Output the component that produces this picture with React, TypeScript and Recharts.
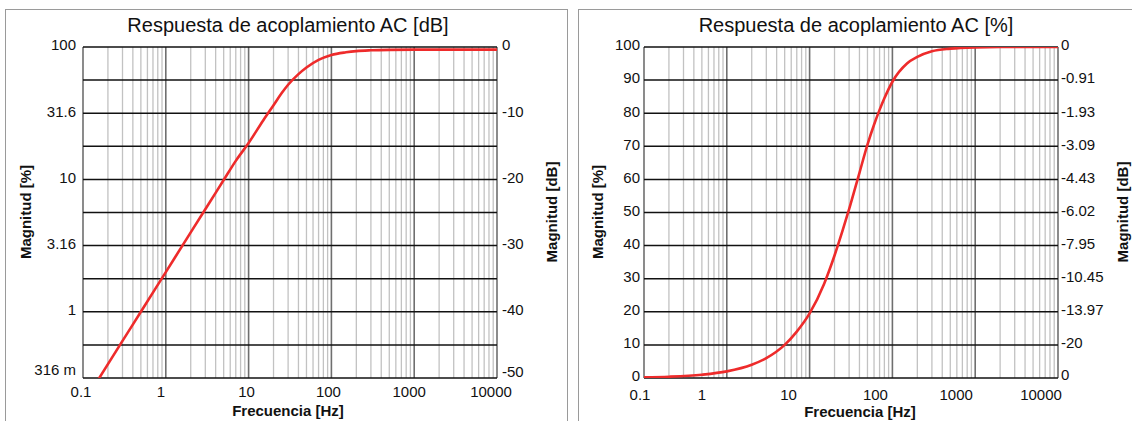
import React from "react";
import { Line, LineChart, ReferenceLine, XAxis, YAxis } from "recharts";

// x axis (shared by both panels)
const freqTicks = [0.1, 1, 10, 100, 1000, 10000];
const freqTickLabels = ["0.1", "1", "10", "100", "1000", "10000"];
const decadeLines = [0.1, 1, 10, 100, 1000, 10000];
const decadeStarts = [0.1, 1, 10, 100, 1000];
const minorSteps = [2, 3, 4, 5, 6, 7, 8, 9];

// left panel: response in dB
const dbTicks = [-50, -40, -30, -20, -10, 0];
const dbPctLabels = ["316 m", "1", "3.16", "10", "31.6", "100"];
const dbLabels = ["-50", "-40", "-30", "-20", "-10", "0"];
const dbGrid = [-50, -45, -40, -35, -30, -25, -20, -15, -10, -5, 0];
const dbFreq = [0.15, 0.3, 0.5, 1, 2, 3, 5, 7, 10, 15, 20, 25, 30, 40, 50, 70, 100, 150, 200, 300, 500, 1000, 10000];
const dbValues = [-50.4, -44.4, -40, -34, -28, -24.5, -20.1, -17.2, -14.5, -11.1, -8.8, -7.0, -5.7, -4.1, -3.1, -1.95, -1.2, -0.8, -0.62, -0.5, -0.43, -0.4, -0.4];

// right panel: response in %
const pctTicks = [0, 10, 20, 30, 40, 50, 60, 70, 80, 90, 100];
const pctDbLabels = ["0", "-20", "-13.97", "-10.45", "-7.95", "-6.02", "-4.43", "-3.09", "-1.93", "-0.91", "0"];
const pctFreq = [0.1, 0.2, 0.5, 1, 2, 3, 5, 7, 10, 15, 20, 25, 30, 40, 50, 60, 70, 80, 100, 150, 200, 300, 500, 1000, 2000, 10000];
const pctValues = [0.2, 0.4, 1.0, 2.0, 4.0, 6.0, 10, 14, 19.5, 28.5, 37, 44.5, 51, 62, 70.5, 76.5, 81, 84.5, 89.5, 95, 97, 98.7, 99.5, 99.9, 100, 100];

const minorLines = decadeStarts.flatMap((d) => minorSteps.map((m) => d * m));

const dbData = dbFreq.map((f, i) => ({ f, v: dbValues[i] }));
const pctData = pctFreq.map((f, i) => ({ f, v: pctValues[i] }));

const FONT = "Arial, 'Liberation Sans', Helvetica, sans-serif";
const RED = "#ee2b2b";

const makeFreqTick = (shifts: number[], down: number) => (props: any) => {
  const { x, y, payload } = props;
  const i = freqTicks.indexOf(payload.value);
  return (
    <text x={x + (shifts[i] ?? 0)} y={y + down} dy="0.71em" textAnchor="middle" fontSize={15} fontFamily={FONT} fill="#111">
      {freqTickLabels[i]}
    </text>
  );
};

const makeValueTick = (ticks: number[], labels: string[], anchor: "start" | "end", bottomLift: number) => (props: any) => {
  const { x, y, payload } = props;
  const i = ticks.indexOf(payload.value);
  const lift = i === 0 ? bottomLift : 2;
  return (
    <text x={x} y={y - lift} dy="0.355em" textAnchor={anchor} fontSize={15} fontFamily={FONT} fill="#111">
      {labels[i]}
    </text>
  );
};

interface PanelProps {
  data: { f: number; v: number }[];
  domain: [number, number];
  ticks: number[];
  hLines: number[];
  leftLabels: string[];
  rightLabels: string[];
  tickShifts: number[];
  tickDown: number;
  margin: { top: number; right: number; bottom: number; left: number };
  leftGap: number;
  rightGap: number;
  leftLift: number;
  rightLift: number;
}

const Panel = (p: PanelProps) => (
  <LineChart width={562} height={421} data={p.data} margin={p.margin}>
    <XAxis
      dataKey="f"
      type="number"
      scale="log"
      domain={[0.1, 10000]}
      ticks={freqTicks}
      interval={0}
      allowDataOverflow
      axisLine={false}
      tickLine={false}
      height={30}
      tick={makeFreqTick(p.tickShifts, p.tickDown)}
    />
    <YAxis
      yAxisId="l"
      domain={p.domain}
      ticks={p.ticks}
      interval={0}
      allowDataOverflow
      axisLine={false}
      tickLine={false}
      tickSize={p.leftGap}
      width={50}
      tick={makeValueTick(p.ticks, p.leftLabels, "end", p.leftLift)}
    />
    <YAxis
      yAxisId="r"
      orientation="right"
      domain={p.domain}
      ticks={p.ticks}
      interval={0}
      allowDataOverflow
      axisLine={false}
      tickLine={false}
      tickSize={p.rightGap}
      width={50}
      tick={makeValueTick(p.ticks, p.rightLabels, "start", p.rightLift)}
    />
    {minorLines.map((f) => (
      <ReferenceLine key={"m" + f} x={f} yAxisId="l" stroke="#c2c2c2" strokeWidth={1.3} />
    ))}
    {decadeLines.map((f) => (
      <ReferenceLine key={"d" + f} x={f} yAxisId="l" stroke="#6f6f6f" strokeWidth={1.6} />
    ))}
    {p.hLines.map((v) => (
      <ReferenceLine key={"h" + v} y={v} yAxisId="l" stroke="#111" strokeWidth={1.5} />
    ))}
    <Line yAxisId="l" type="monotone" dataKey="v" stroke={RED} strokeWidth={2.6} dot={false} isAnimationActive={false} />
  </LineChart>
);

export default function App() {
  return (
    <div
      style={{
        position: "absolute",
        left: 0,
        top: 0,
        width: 1132,
        height: 421,
        overflow: "hidden",
        background: "#fff",
        fontFamily: FONT,
      }}
    >
      <div style={{ position: "absolute", left: 5, top: 9, width: 561, height: 440, border: "1px solid #9a9a9a" }} />
      <div style={{ position: "absolute", left: 578, top: 9, width: 580, height: 440, border: "1px solid #9a9a9a" }} />
      <div style={{ position: "absolute", left: 0, top: 0 }}>
        <Panel
          data={dbData}
          domain={[-50, 0]}
          ticks={dbTicks}
          hLines={dbGrid}
          leftLabels={dbPctLabels}
          rightLabels={dbLabels}
          tickShifts={[-2, -5, -2, -3, -5, -6]}
          tickDown={0}
          margin={{ top: 47, right: 15, bottom: 13, left: 33 }}
          leftGap={5}
          rightGap={3}
          leftLift={8}
          rightLift={6}
        />
      </div>
      <div style={{ position: "absolute", left: 570, top: 0 }}>
        <Panel
          data={pctData}
          domain={[0, 100]}
          ticks={pctTicks}
          hLines={pctTicks}
          leftLabels={pctTicks.map(String)}
          rightLabels={pctDbLabels}
          tickShifts={[-4, -25, -21, -17, -19, -17]}
          tickDown={3}
          margin={{ top: 47, right: 24, bottom: 13, left: 24 }}
          leftGap={2}
          rightGap={1}
          leftLift={2}
          rightLift={3}
        />
      </div>
      <svg width={1132} height={421} style={{ position: "absolute", left: 0, top: 0, pointerEvents: "none" }} fontFamily={FONT}>
        <text x={288} y={32} textAnchor="middle" fontSize={20} fill="#111">
          Respuesta de acoplamiento AC [dB]
        </text>
        <text x={856} y={32} textAnchor="middle" fontSize={20} fill="#111">
          Respuesta de acoplamiento AC [%]
        </text>
        <text x={288} y={416} textAnchor="middle" fontSize={15} fontWeight="bold" fill="#111">
          Frecuencia [Hz]
        </text>
        <text x={860} y={417} textAnchor="middle" fontSize={15} fontWeight="bold" fill="#111">
          Frecuencia [Hz]
        </text>
        <text transform="translate(31,212) rotate(-90)" textAnchor="middle" fontSize={15} fontWeight="bold" fill="#111">
          Magnitud [%]
        </text>
        <text transform="translate(557,212) rotate(-90)" textAnchor="middle" fontSize={15} fontWeight="bold" fill="#111">
          Magnitud [dB]
        </text>
        <text transform="translate(603,212) rotate(-90)" textAnchor="middle" fontSize={15} fontWeight="bold" fill="#111">
          Magnitud [%]
        </text>
        <text transform="translate(1128,212) rotate(-90)" textAnchor="middle" fontSize={15} fontWeight="bold" fill="#111">
          Magnitud [dB]
        </text>
      </svg>
    </div>
  );
}
